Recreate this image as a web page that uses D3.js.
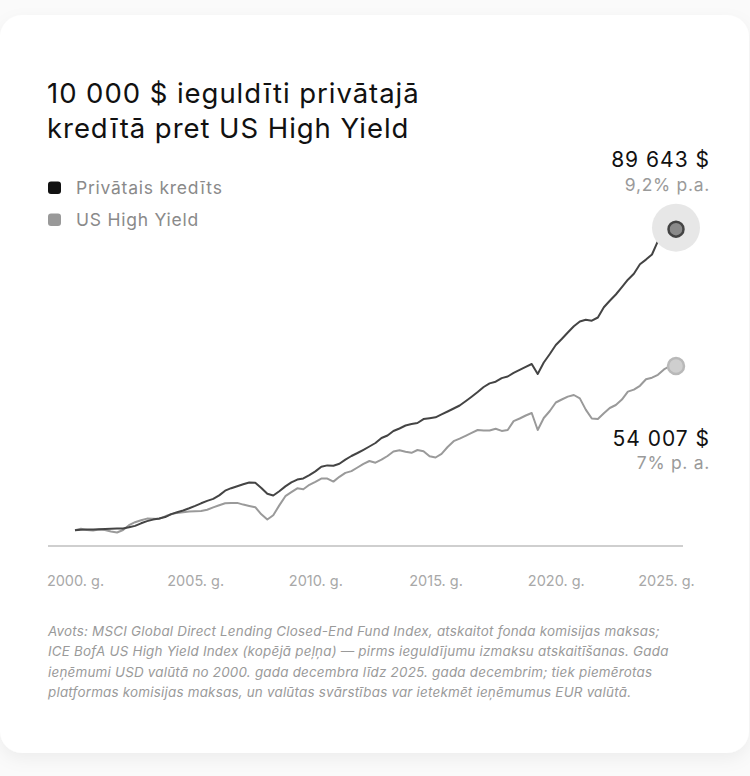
<!DOCTYPE html>
<html>
<head>
<meta charset="utf-8">
<script src="https://cdn.jsdelivr.net/npm/d3@7"></script>
<style>
  html, body { margin: 0; padding: 0; background: #fafafa; }
  body { width: 750px; height: 776px; overflow: hidden; font-family: Inter, "Noto Sans", sans-serif; }
</style>
</head>
<body>
<div id="chart"></div>
<script>
// ---- data (quarterly, Dec 2000 .. Dec 2025) ----
const startDate = new Date(2000, 11, 1);
const stepMonths = 3;

const privateCredit = [
  10000, 10106, 10159, 10185, 10238, 10291, 10370, 10423, 10476, 10767,
  11138, 11825, 12407, 12804, 13095, 13466, 14259, 14736, 15212, 15794,
  16429, 17116, 17751, 18281, 19206, 20450, 21111, 21640, 22143, 22619,
  22540, 21164, 19630, 19180, 20317, 21587, 22645, 23386, 23704, 24577,
  25556, 26772, 27143, 27063, 27566, 28677, 29630, 30423, 31270, 32143,
  33069, 34392, 35053, 36243, 36905, 37698, 38095, 38360, 39392, 39630,
  39868, 40635, 41402, 42196, 42989, 44127, 45317, 46561, 47884, 48836,
  49286, 50238, 50661, 51614, 52407, 53201, 53968, 51323, 54365, 56614,
  58995, 60582, 62302, 63942, 65212, 65661, 65423, 66270, 68995, 70688,
  72354, 74286, 76270, 77857, 80344, 81587, 82936, 86481, 88360, 89339,
  89643
];

const usHighYield = [
  10000, 10397, 10079, 9921, 10159, 10026, 9683, 9392, 10053, 11323,
  12116, 12619, 13069, 13016, 12989, 13677, 14206, 14577, 14762, 14921,
  15000, 15106, 15397, 16032, 16614, 17116, 17196, 17222, 16772, 16429,
  16085, 14206, 12831, 13968, 16561, 18995, 20053, 21085, 20847, 22011,
  22804, 23651, 23651, 22857, 24127, 25159, 25635, 26587, 27540, 28307,
  27857, 28651, 29630, 30820, 31164, 30741, 30476, 31217, 30899, 29550,
  29233, 30212, 32011, 33545, 34206, 34974, 35741, 36508, 36402, 36376,
  36825, 36270, 36508, 38862, 39550, 40344, 41005, 36508, 39683, 41534,
  43783, 44577, 45344, 45767, 44868, 41905, 39550, 39418, 40926, 42328,
  43122, 44550, 46667, 47196, 48201, 49921, 50344, 51111, 52540, 53439,
  53450
];

const seriesNames = ["Privātais kredīts", "US High Yield"];
const seriesColors = ["#444444", "#9a9a9a"];
const legendColors = ["#111111", "#999999"];
const endValueLabels = ["89 643 $", "54 007 $"];
const endRateLabels = ["9,2% p.a.", "7% p. a."];
const tickYears = [2000, 2005, 2010, 2015, 2020, 2025];

const titleLines = ["10 000 $ ieguldīti privātajā", "kredītā pret US High Yield"];
const footnoteLines = [
  "Avots: MSCI Global Direct Lending Closed-End Fund Index, atskaitot fonda komisijas maksas;",
  "ICE BofA US High Yield Index (kopējā peļņa) — pirms ieguldījumu izmaksu atskaitīšanas. Gada",
  "ieņēmumi USD valūtā no 2000. gada decembra līdz 2025. gada decembrim; tiek piemērotas",
  "platformas komisijas maksas, un valūtas svārstības var ietekmēt ieņēmumus EUR valūtā."
];

// ---- setup ----
const width = 750, height = 776;
const svg = d3.select("#chart").append("svg")
  .attr("width", width)
  .attr("height", height);

const defs = svg.append("defs");
const shadow = defs.append("filter").attr("id", "cardShadow")
  .attr("x", "-10%").attr("y", "-10%").attr("width", "120%").attr("height", "120%");
shadow.append("feDropShadow")
  .attr("dx", 0).attr("dy", 6).attr("stdDeviation", 8)
  .attr("flood-color", "#000").attr("flood-opacity", 0.05);

// card
svg.append("rect")
  .attr("x", 0).attr("y", 15)
  .attr("width", 749).attr("height", 738)
  .attr("rx", 22)
  .attr("fill", "#fff")
  .attr("filter", "url(#cardShadow)");

// title
svg.append("g").selectAll("text")
  .data(titleLines)
  .join("text")
  .attr("x", 47)
  .attr("y", (d, i) => 102.5 + i * 35.8)
  .attr("font-size", 27.5)
  .attr("letter-spacing", 0.95)
  .attr("fill", "#111")
  .text(d => d);

// legend
const legend = svg.append("g").selectAll("g")
  .data(seriesNames)
  .join("g")
  .attr("transform", (d, i) => `translate(48, ${181.5 + i * 32})`);
legend.append("rect")
  .attr("width", 13).attr("height", 12.5).attr("rx", 3)
  .attr("fill", (d, i) => legendColors[i]);
legend.append("text")
  .attr("x", 28).attr("y", 12.8)
  .attr("font-size", 17.5)
  .attr("letter-spacing", 0.75)
  .attr("fill", "#8a8a8a")
  .text(d => d);

// scales
const dates = privateCredit.map((d, i) => d3.timeMonth.offset(startDate, i * stepMonths));
const x = d3.scaleTime()
  .domain([startDate, dates[dates.length - 1]])
  .range([75, 676]);
const y = d3.scaleLinear()
  .domain([0, 100000])
  .range([568, 190]);

// baseline
svg.append("line")
  .attr("x1", 48).attr("x2", 683)
  .attr("y1", 546).attr("y2", 546)
  .attr("stroke", "#cfcfcf")
  .attr("stroke-width", 2);

// x axis labels
const xAxis = d3.axisBottom(x)
  .tickValues(tickYears.map(yr => new Date(yr, 11, 1)))
  .tickSize(0)
  .tickPadding(29.5)
  .tickFormat(d => `${d.getFullYear()}. g.`);
const axisG = svg.append("g")
  .attr("transform", "translate(0,546)")
  .call(xAxis);
axisG.select(".domain").remove();
axisG.selectAll("text")
  .attr("font-family", "Inter, sans-serif")
  .attr("font-size", 14.5)
  .attr("fill", "#a8a8a8");
axisG.selectAll(".tick").filter((d, i, n) => i === n.length - 1)
  .select("text").attr("dx", -10);

// lines
const allSeries = [privateCredit, usHighYield];
const line = d3.line()
  .x((d, i) => x(dates[i]))
  .y(d => y(d))
  .curve(d3.curveLinear);

// draw HY first so private credit sits on top
svg.append("g").selectAll("path")
  .data([1, 0])
  .join("path")
  .attr("d", k => line(allSeries[k]))
  .attr("fill", "none")
  .attr("stroke", k => seriesColors[k])
  .attr("stroke-width", 2)
  .attr("stroke-linejoin", "round");

// end markers
const lastDate = dates[dates.length - 1];
const pcEnd = privateCredit[privateCredit.length - 1];
const hyEnd = usHighYield[usHighYield.length - 1];

svg.append("circle")
  .attr("cx", x(lastDate)).attr("cy", y(pcEnd) - 1.5)
  .attr("r", 24)
  .attr("fill", "#e7e7e7");
svg.append("circle")
  .attr("cx", x(lastDate)).attr("cy", y(pcEnd))
  .attr("r", 7.5)
  .attr("fill", "#8a8a8a")
  .attr("stroke", "#444")
  .attr("stroke-width", 2.5);
svg.append("circle")
  .attr("cx", x(lastDate)).attr("cy", y(hyEnd))
  .attr("r", 8)
  .attr("fill", "#cfcfcf")
  .attr("stroke", "#b9b9b9")
  .attr("stroke-width", 2.5);

// end labels
const endVals = [pcEnd, hyEnd];
const endOffsets = [-62, 80];
const endLabels = svg.append("g").selectAll("g")
  .data(endVals)
  .join("g")
  .attr("transform", (d, i) => `translate(710, ${y(d) + endOffsets[i]})`);
endLabels.append("text")
  .attr("text-anchor", "end")
  .attr("font-size", 21)
  .attr("letter-spacing", 1)
  .attr("fill", "#111")
  .text((d, i) => endValueLabels[i]);
endLabels.append("text")
  .attr("text-anchor", "end")
  .attr("y", 23.5)
  .attr("font-size", 17.5)
  .attr("letter-spacing", 0.7)
  .attr("fill", "#9a9a9a")
  .text((d, i) => endRateLabels[i]);

// footnote
svg.append("g").selectAll("text")
  .data(footnoteLines)
  .join("text")
  .attr("x", 48)
  .attr("y", (d, i) => 636 + i * 20.4)
  .attr("font-size", 13.4)
  .attr("font-style", "italic")
  .attr("letter-spacing", 0.22)
  .attr("fill", "#9a9a9a")
  .text(d => d);
</script>
</body>
</html>
